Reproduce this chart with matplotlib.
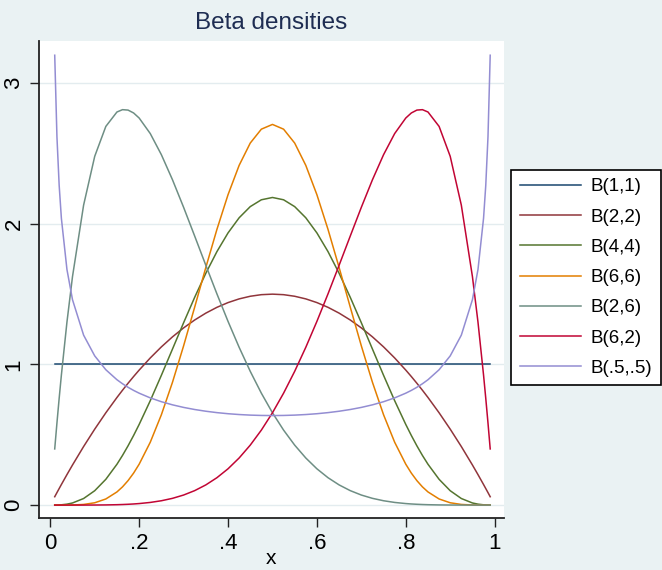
import matplotlib
matplotlib.use('Agg')
import matplotlib.pyplot as plt

# x grid the densities were read at
x = [0.01, 0.015, 0.02, 0.025, 0.0375, 0.05, 0.075, 0.1, 0.125, 0.15, 0.1625, 0.175,
     0.1875, 0.2, 0.225, 0.25, 0.275, 0.3, 0.325, 0.35, 0.375, 0.4, 0.425, 0.45,
     0.475, 0.5, 0.525, 0.55, 0.575, 0.6, 0.625, 0.65, 0.675, 0.7, 0.725, 0.75,
     0.775, 0.8, 0.8125, 0.825, 0.8375, 0.85, 0.875, 0.9, 0.925, 0.95, 0.9625,
     0.975, 0.98, 0.985, 0.99]

b11 = [1.0] * len(x)

b22 = [0.0594, 0.0887, 0.1176, 0.1463, 0.2166, 0.285, 0.4163, 0.54, 0.6563, 0.765,
       0.8166, 0.8663, 0.9141, 0.96, 1.0463, 1.125, 1.1963, 1.26, 1.3163, 1.365,
       1.4063, 1.44, 1.4663, 1.485, 1.4963, 1.5,
       1.4963, 1.485, 1.4663, 1.44, 1.4063, 1.365, 1.3163, 1.26, 1.1963, 1.125,
       1.0463, 0.96, 0.9141, 0.8663, 0.8166, 0.765, 0.6563, 0.54, 0.4163, 0.285,
       0.2166, 0.1463, 0.1176, 0.0887, 0.0594]

b44 = [0.0001, 0.0005, 0.0011, 0.0020, 0.0066, 0.0150, 0.0467, 0.1021, 0.1832,
       0.2902, 0.3529, 0.4213, 0.4950, 0.5734, 0.7423, 0.9229, 1.1095, 1.2965,
       1.4780, 1.6484, 1.8025, 1.9354, 2.0431, 2.1225, 2.1711, 2.1875,
       2.1711, 2.1225, 2.0431, 1.9354, 1.8025, 1.6484, 1.4780, 1.2965, 1.1095,
       0.9229, 0.7423, 0.5734, 0.4950, 0.4213, 0.3529, 0.2902, 0.1832, 0.1021,
       0.0467, 0.0150, 0.0066, 0.0020, 0.0011, 0.0005, 0.0001]

b66 = [0.0, 0.0, 0.0, 0.0, 0.0002, 0.0007, 0.0045, 0.0164, 0.0434, 0.0934, 0.1294,
       0.1739, 0.2274, 0.2907, 0.4469, 0.6424, 0.8733, 1.1321, 1.4083, 1.6893,
       1.9605, 2.2072, 2.4159, 2.5744, 2.6733, 2.7070,
       2.6733, 2.5744, 2.4159, 2.2072, 1.9605, 1.6893, 1.4083, 1.1321, 0.8733,
       0.6424, 0.4469, 0.2907, 0.2274, 0.1739, 0.1294, 0.0934, 0.0434, 0.0164,
       0.0045, 0.0007, 0.0002, 0.0, 0.0, 0.0, 0.0]

b26 = [0.3994, 0.5841, 0.7593, 0.9252, 1.3010, 1.6249, 2.1331, 2.4801, 2.6928,
       2.7953, 2.8120, 2.8090, 2.7885, 2.7525, 2.6420, 2.4917, 2.3135, 2.1177,
       1.9127, 1.7056, 1.5020, 1.3064, 1.1220, 0.9512, 0.7957, 0.6563,
       0.5332, 0.4263, 0.3349, 0.2580, 0.1947, 0.1434, 0.1028, 0.0714, 0.0479,
       0.0308, 0.0188, 0.0108, 0.0079, 0.0057, 0.0040, 0.0027, 0.0011, 0.0004,
       0.0001, 0.0, 0.0, 0.0, 0.0, 0.0, 0.0]

b62 = [0.0, 0.0, 0.0, 0.0, 0.0, 0.0, 0.0001, 0.0004, 0.0011, 0.0027, 0.0040,
       0.0057, 0.0079, 0.0108, 0.0188, 0.0308, 0.0479, 0.0714, 0.1028, 0.1434,
       0.1947, 0.2580, 0.3349, 0.4263, 0.5332, 0.6563,
       0.7957, 0.9512, 1.1220, 1.3064, 1.5020, 1.7056, 1.9127, 2.1177, 2.3135,
       2.4917, 2.6420, 2.7525, 2.7885, 2.8090, 2.8120, 2.7953, 2.6928, 2.4801,
       2.1331, 1.6249, 1.3010, 0.9252, 0.7593, 0.5841, 0.3994]

b55 = [3.1991, 2.6187, 2.2736, 2.0388, 1.6755, 1.4605, 1.2085, 1.0610, 0.9625,
       0.8915, 0.8629, 0.8377, 0.8155, 0.7958, 0.7623, 0.7351, 0.7129, 0.6946,
       0.6796, 0.6674, 0.6575, 0.6497, 0.6439, 0.6398, 0.6374, 0.6366,
       0.6374, 0.6398, 0.6439, 0.6497, 0.6575, 0.6674, 0.6796, 0.6946, 0.7129,
       0.7351, 0.7623, 0.7958, 0.8155, 0.8377, 0.8629, 0.8915, 0.9625, 1.0610,
       1.2085, 1.4605, 1.6755, 2.0388, 2.2736, 2.6187, 3.1991]

labels = ['B(1,1)', 'B(2,2)', 'B(4,4)', 'B(6,6)', 'B(2,6)', 'B(6,2)', 'B(.5,.5)']
series = [b11, b22, b44, b66, b26, b62, b55]
colors = ['#1a476f', '#90353b', '#55752f', '#e37e00', '#6e8e84', '#c10534', '#938dd2']

xticks = [0, 0.2, 0.4, 0.6, 0.8, 1.0]
xticklabels = ['0', '.2', '.4', '.6', '.8', '1']
yticks = [0, 1, 2, 3]

plt.rcParams['font.family'] = ['Liberation Sans', 'DejaVu Sans']

bg = '#eaf2f3'
fig = plt.figure(figsize=(6.62, 5.70), dpi=100, facecolor=bg)
ax = fig.add_axes([0.0589, 0.0912, 0.7024, 0.8368])

for vals, lab, col in zip(series, labels, colors):
    ax.plot(x, vals, color=col, lw=1.1, label=lab)

ax.set_xlim(-0.0254, 1.021)
ax.set_ylim(-0.092, 3.30)
ax.set_xticks(xticks)
ax.set_xticklabels(xticklabels, fontsize=16)
ax.set_yticks(yticks)
ax.set_yticklabels([str(t) for t in yticks], fontsize=16, rotation=90, va='center')
ax.tick_params(length=6.5, width=1.0, color='#222222', pad=4)
ax.grid(axis='y', color='#e3ecef', lw=1.0)
ax.set_axisbelow(True)
for s in ['top', 'right']:
    ax.spines[s].set_visible(False)
for s in ['left', 'bottom']:
    ax.spines[s].set_linewidth(1.3)
    ax.spines[s].set_color('#222222')

ax.set_xlabel('x', fontsize=15, labelpad=-3)
ax.set_title('Beta densities', fontsize=17.5, color='#1e2d52', pad=9)

leg = fig.legend(loc='upper left', bbox_to_anchor=(0.772, 0.702), fontsize=13.5,
                 handlelength=3.3, handletextpad=0.5, labelspacing=0.7,
                 borderpad=0.45, borderaxespad=0, fancybox=False, framealpha=1,
                 edgecolor='black')
leg.get_frame().set_linewidth(1.2)

fig.savefig('out.png', dpi=100, facecolor=bg)
